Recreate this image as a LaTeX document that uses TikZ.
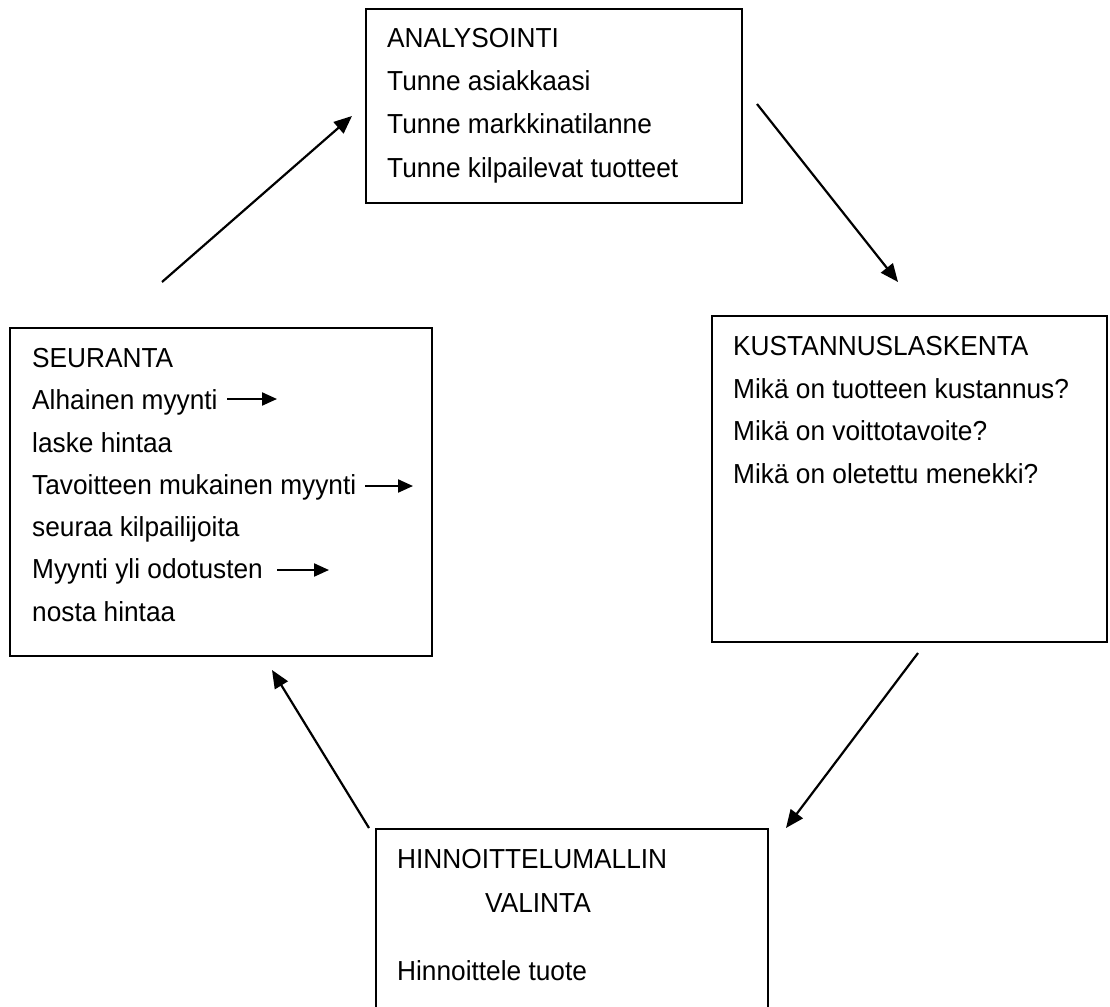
\documentclass[tikz,border=0pt]{standalone}
\usepackage{fontspec}
\setmainfont[FakeStretch=0.955]{Liberation Sans}
\usetikzlibrary{arrows.meta}
\begin{document}
\begin{tikzpicture}[x=1pt,y=-1pt,
  box/.style={draw, line width=1.8pt, inner sep=0pt, outer sep=0pt, anchor=north west},
  txt/.style={anchor=base west, inner sep=0pt, font=\fontsize{27.5}{31}\selectfont},
  flow/.style={line width=2.2pt, -{Triangle[length=18pt,width=15pt]}},
  inarrow/.style={line width=2.2pt, -{Triangle[length=15pt,width=13pt]}}]
\clip (0,0) rectangle (1110,1006);
\fill[white] (0,0) rectangle (1110,1006);

% boxes
\node[box, minimum width=376pt, minimum height=194pt] (boxA) at (366,9) {};
\node[box, minimum width=395pt, minimum height=326pt] (boxK) at (712,316) {};
\node[box, minimum width=422pt, minimum height=328pt] (boxS) at (10,328) {};
\node[box, minimum width=392pt, minimum height=220pt] (boxH) at (376,829) {};

% ANALYSOINTI
\node[txt] (a1) at (387,48) {ANALYSOINTI};
\node[txt] (a2) at (387,91) {Tunne asiakkaasi};
\node[txt] (a3) at (387,134) {Tunne markkinatilanne};
\node[txt] (a4) at (387,177) {Tunne kilpailevat tuotteet};

% KUSTANNUSLASKENTA
\node[txt] (k1) at (733,355) {KUSTANNUSLASKENTA};
\node[txt] (k2) at (733,398) {Mikä on tuotteen kustannus?};
\node[txt] (k3) at (733,440) {Mikä on voittotavoite?};
\node[txt] (k4) at (733,483) {Mikä on oletettu menekki?};

% SEURANTA
\node[txt] (s1) at (32,367) {SEURANTA};
\node[txt] (s2) at (32,409) {Alhainen myynti};
\node[txt] (s3) at (32,452) {laske hintaa};
\node[txt] (s4) at (32,494) {Tavoitteen mukainen myynti};
\node[txt] (s5) at (32,536) {seuraa kilpailijoita};
\node[txt] (s6) at (32,578) {Myynti yli odotusten};
\node[txt] (s7) at (32,621) {nosta hintaa};

% HINNOITTELUMALLIN VALINTA
\node[txt] (h1) at (397,868) {HINNOITTELUMALLIN};
\node[txt] (h2) at (485,912) {VALINTA};
\node[txt] (h3) at (397,980) {Hinnoittele tuote};

% inline arrows
\coordinate (i1s) at (227,399); \coordinate (i1e) at (277,399);
\coordinate (i2s) at (365,486); \coordinate (i2e) at (413,486);
\coordinate (i3s) at (277,570); \coordinate (i3e) at (329,570);
\draw[inarrow] (i1s) -- (i1e);
\draw[inarrow] (i2s) -- (i2e);
\draw[inarrow] (i3s) -- (i3e);

% cycle arrows
\coordinate (f1s) at (162,282); \coordinate (f1e) at (352,116);
\coordinate (f2s) at (757,104); \coordinate (f2e) at (898,282);
\coordinate (f3s) at (918,653); \coordinate (f3e) at (786,828);
\coordinate (f4s) at (369,828); \coordinate (f4e) at (272,670);
\draw[flow] (f1s) -- (f1e);
\draw[flow] (f2s) -- (f2e);
\draw[flow] (f3s) -- (f3e);
\draw[flow] (f4s) -- (f4e);
\end{tikzpicture}
\end{document}
